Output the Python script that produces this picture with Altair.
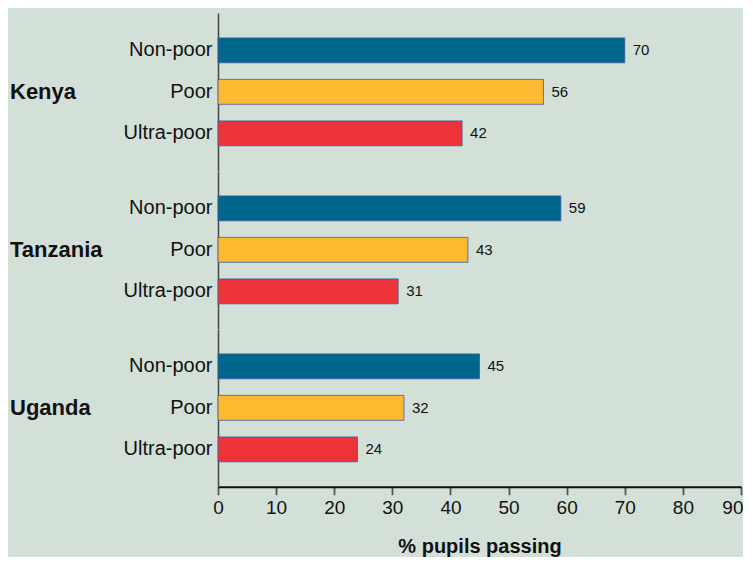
import altair as alt
import pandas as pd

countries = ["Kenya", "Tanzania", "Uganda"]
groups = ["Non-poor", "Poor", "Ultra-poor"]
kenya = [70, 56, 42]
tanzania = [59, 43, 31]
uganda = [45, 32, 24]
colors = ["#00668c", "#fdba30", "#ee3338"]
x_ticks = [0, 10, 20, 30, 40, 50, 60, 70, 80, 90]

TXT = "#111111"


def panel(country, values, show_x):
    d = pd.DataFrame({"country": country, "group": groups, "value": values})
    base = alt.Chart(d)
    y = alt.Y("group:N", sort=groups,
              scale=alt.Scale(domain=groups, paddingInner=0.4, paddingOuter=0.6),
              axis=alt.Axis(title=None, ticks=False, labelFontSize=20, labelColor=TXT,
                            labelPadding=6, domainColor="#444444", domainWidth=1.5))
    if show_x:
        xaxis = alt.Axis(values=x_ticks, title="% pupils passing", grid=False,
                         labelFontSize=19, labelColor=TXT, labelPadding=4,
                         labelFlush=False,
                         labelAlign={"condition": {"test": "datum.value == 90", "value": "right"},
                                     "value": "center"},
                         labelOffset={"condition": {"test": "datum.value == 90", "value": 2},
                                      "value": 0},
                         domainColor="#111111", domainWidth=2,
                         tickColor="#555555", tickSize=8, tickWidth=1.8,
                         titleFontSize=20, titleFontWeight="bold", titleColor=TXT,
                         titlePadding=19)
    else:
        xaxis = None
    x = alt.X("value:Q", scale=alt.Scale(domain=[0, 90], nice=False), axis=xaxis)
    bars = base.mark_bar(stroke="#3d5a9e", strokeWidth=0.8).encode(
        x=x, y=y,
        color=alt.Color("group:N", scale=alt.Scale(domain=groups, range=colors), legend=None),
    )
    labels = base.mark_text(align="left", baseline="middle", dx=8, fontSize=15,
                            color=TXT).encode(
        x=alt.X("value:Q"), y=alt.Y("group:N", sort=groups), text="value:Q"
    )
    name = base.transform_filter(alt.datum.group == "Poor").mark_text(
        align="left", baseline="middle", fontSize=22, fontWeight="bold", color=TXT
    ).encode(x=alt.value(-208), y=alt.Y("group:N", sort=groups), text="country:N")
    return alt.layer(bars, labels, name).properties(width=523, height=157.7)


chart = alt.vconcat(
    panel(countries[0], kenya, False),
    panel(countries[1], tanzania, False),
    panel(countries[2], uganda, True),
    spacing=0,
).configure(
    background="#d3e0d8",
    font="Liberation Sans",
    padding={"left": 2, "top": 5, "right": 0, "bottom": 0},
).configure_view(stroke=None)

chart.save("out.html", embed_options={"renderer": "svg", "actions": False})
